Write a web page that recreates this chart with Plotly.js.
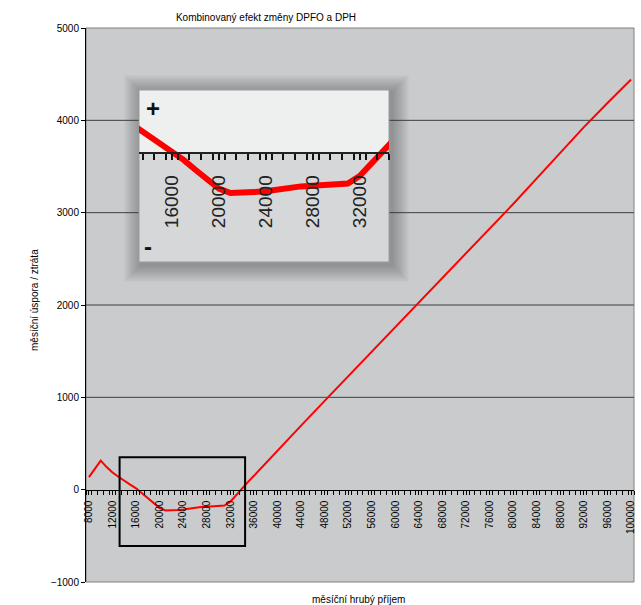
<!DOCTYPE html>
<html>
<head>
<meta charset="utf-8">
<script src="https://cdn.plot.ly/plotly-3.0.1.min.js"></script>
<style>html,body{margin:0;padding:0;background:#fff;}#chart{width:641px;height:605px;}</style>
</head>
<body>
<div id="chart"></div>
<script>
// ---- data ----
const INCOME = [8000, 9000, 10000, 11000, 12000, 13000, 14000, 15000, 16000, 17000,
  18000, 19000, 20000, 21000, 22000, 23000, 24000, 25000, 26000, 27000,
  28000, 29000, 30000, 31000, 32000, 33000, 34000, 35000, 36000,
  40000, 44000, 48000, 52000, 56000, 60000, 64000, 68000, 72000, 76000,
  80000, 84000, 88000, 92000, 96000, 100000];
const SAVING = [135, 225, 315, 245, 185, 140, 95, 55, 15, -40,
  -95, -150, -200, -225, -225, -220, -215, -205, -195, -188,
  -184, -180, -178, -172, -130, -55, 15, 85, 150,
  425, 693, 961, 1228, 1496, 1764, 2031, 2296, 2561, 2825,
  3094, 3371, 3649, 3926, 4187, 4443];
const Y_GRID = [1000, 2000, 3000, 4000];
const ZOOM_X = [13200, 34500];
const ZOOM_Y = [-610, 350];

const TITLE = 'Kombinovaný efekt změny DPFO a DPH';
const X_TITLE = 'měsíční hrubý příjem';
const Y_TITLE = 'měsíční úspora / ztráta';

// ---- layout geometry ----
const W = 641, H = 605;
const L = 86, R = 634, T = 28, B = 582;
const px = v => (v - L) / (R - L);
const py = v => (B - v) / (B - T);

// inset box (pixels)
const IL = 139, IR = 389, IT = 90, IB = 262;
const insetX = [px(IL), px(IR)];
const insetY = [py(IB), py(IT)];
const insetAxisPos = insetY[0] + (0 - ZOOM_Y[0]) / (ZOOM_Y[1] - ZOOM_Y[0]) * (insetY[1] - insetY[0]);

const FONT = 'Arial, "Liberation Sans", sans-serif';

const shapes = [];
// main plot background
shapes.push({type: 'rect', xref: 'paper', yref: 'paper', x0: 0, x1: 1, y0: 0, y1: 1,
  fillcolor: '#c9cbcd', line: {color: '#808080', width: 1}, layer: 'below'});
// horizontal gridlines
Y_GRID.forEach(v => shapes.push({type: 'line', xref: 'paper', yref: 'y', x0: 0, x1: 1, y0: v, y1: v,
  line: {color: '#3c4044', width: 1}, layer: 'below'}));
// inset shadow (soft, layered)
for (let i = 1; i <= 12; i++) {
  const d = i * 1.4;
  shapes.push({type: 'rect', xref: 'paper', yref: 'paper',
    x0: px(IL - d + 2), x1: px(IR + d + 3), y0: py(IB + d + 3), y1: py(IT - d + 2),
    fillcolor: 'rgba(60,60,60,0.035)', line: {width: 0}, layer: 'below'});
}
// inset backgrounds
shapes.push({type: 'rect', xref: 'paper', yref: 'paper', x0: insetX[0], x1: insetX[1], y0: insetY[0], y1: insetAxisPos,
  fillcolor: '#d5d7d9', line: {width: 0}, layer: 'below'});
shapes.push({type: 'rect', xref: 'paper', yref: 'paper', x0: insetX[0], x1: insetX[1], y0: insetAxisPos, y1: insetY[1],
  fillcolor: '#eef0f0', line: {width: 0}, layer: 'below'});
shapes.push({type: 'rect', xref: 'paper', yref: 'paper', x0: insetX[0], x1: insetX[1], y0: insetY[0], y1: insetY[1],
  fillcolor: 'rgba(0,0,0,0)', line: {color: '#9a9c9e', width: 1}, layer: 'below'});
// zoom box in main chart
shapes.push({type: 'rect', xref: 'x', yref: 'y', x0: ZOOM_X[0], x1: ZOOM_X[1], y0: ZOOM_Y[0], y1: ZOOM_Y[1],
  fillcolor: 'rgba(0,0,0,0)', line: {color: '#000', width: 2}, layer: 'above'});

const traces = [
  {x: INCOME, y: SAVING, type: 'scatter', mode: 'lines', xaxis: 'x', yaxis: 'y',
   line: {color: '#ff0000', width: 2}, hoverinfo: 'skip'},
  {x: INCOME, y: SAVING, type: 'scatter', mode: 'lines', xaxis: 'x2', yaxis: 'y2',
   line: {color: '#ff0000', width: 6}, hoverinfo: 'skip'}
];

const layout = {
  width: W, height: H,
  margin: {l: L, r: W - R, t: T, b: H - B, pad: 0},
  paper_bgcolor: '#ffffff',
  plot_bgcolor: 'rgba(0,0,0,0)',
  showlegend: false,
  font: {family: FONT, size: 10, color: '#000'},
  title: {text: TITLE, font: {family: FONT, size: 10, color: '#000'},
    xref: 'paper', x: px(266), xanchor: 'center', yref: 'container', y: 1 - 17 / H, yanchor: 'middle'},
  xaxis: {
    domain: [0, 1], range: [7500, 100500], anchor: 'free', position: 1000 / 6000,
    tickmode: 'linear', tick0: 8000, dtick: 4000, tickangle: -90, tickformat: 'd',
    ticks: 'outside', ticklen: 4, tickcolor: '#000', tickwidth: 1,
    minor: {tick0: 7500, dtick: 1000, ticks: 'outside', ticklen: 4, tickcolor: '#000', tickwidth: 1, showgrid: false},
    tickfont: {family: FONT, size: 10, color: '#000'},
    ticklabelstandoff: 2,
    showline: true, linecolor: '#000', linewidth: 1,
    showgrid: false, zeroline: false, fixedrange: true
  },
  yaxis: {
    domain: [0, 1], range: [-1000, 5000], tickmode: 'linear', tick0: -1000, dtick: 1000, tickformat: 'd',
    ticks: 'outside', ticklen: 4, tickcolor: '#000',
    tickfont: {family: FONT, size: 10, color: '#000'},
    showline: true, linecolor: '#000', linewidth: 1,
    showgrid: false, zeroline: false, fixedrange: true
  },
  xaxis2: {
    domain: insetX, range: ZOOM_X, anchor: 'free', position: insetAxisPos,
    tickmode: 'linear', tick0: 16000, dtick: 4000, tickangle: -90, tickformat: 'd',
    ticks: 'outside', ticklen: 6, tickcolor: '#111', tickwidth: 2,
    minor: {tick0: 13500, dtick: 1000, ticks: 'outside', ticklen: 6, tickcolor: '#111', tickwidth: 2, showgrid: false},
    tickfont: {family: FONT, size: 19, color: '#222'},
    ticklabelstandoff: 8,
    showline: true, linecolor: '#222', linewidth: 2,
    showgrid: false, zeroline: false, fixedrange: true
  },
  yaxis2: {
    domain: insetY, range: ZOOM_Y, anchor: 'x2',
    showticklabels: false, ticks: '', showline: false, showgrid: false, zeroline: false, fixedrange: true
  },
  shapes: shapes,
  annotations: [
    {text: X_TITLE, xref: 'paper', yref: 'paper', x: px(358), y: py(599), xanchor: 'center', yanchor: 'middle',
     showarrow: false, font: {family: FONT, size: 10, color: '#000'}},
    {text: Y_TITLE, xref: 'paper', yref: 'paper', x: px(34), y: py(300), xanchor: 'center', yanchor: 'middle',
     textangle: -90, showarrow: false, font: {family: FONT, size: 10, color: '#000'}},
    {text: '<b>+</b>', xref: 'paper', yref: 'paper', x: px(153), y: py(108), xanchor: 'center', yanchor: 'middle',
     showarrow: false, font: {family: FONT, size: 24, color: '#111'}},
    {text: '<b>-</b>', xref: 'paper', yref: 'paper', x: px(148), y: py(246), xanchor: 'center', yanchor: 'middle',
     showarrow: false, font: {family: FONT, size: 24, color: '#111'}}
  ]
};

Plotly.newPlot('chart', traces, layout, {displayModeBar: false, staticPlot: true});
</script>
</body>
</html>
